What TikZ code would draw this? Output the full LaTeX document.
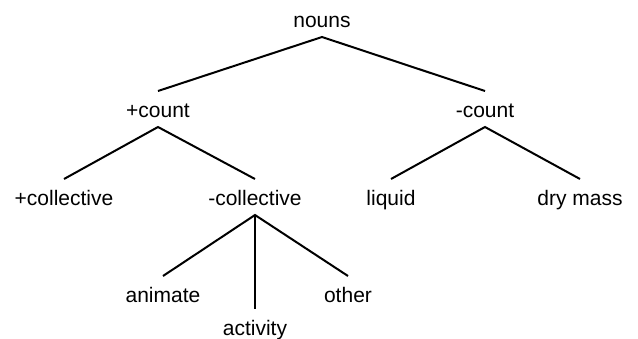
\documentclass[tikz,border=0pt]{standalone}
\usepackage{fontspec}
\setmainfont{Liberation Sans}
\begin{document}
\begin{tikzpicture}[x=1pt,y=1pt,
  lbl/.style={anchor=base,inner sep=0pt,outer ysep=6pt,text height=20pt,text depth=4pt,font=\fontsize{21}{25}\selectfont},
  edge/.style={line width=2pt}]
\useasboundingbox (0,0) rectangle (638,-338);
\node[lbl] (nouns) at (322,-27) {nouns};
\node[lbl] (pc) at (158,-117) {+count};
\node[lbl] (mc) at (485,-117) {-count};
\node[lbl] (pcol) at (64,-205) {+collective};
\node[lbl] (mcol) at (255,-205) {-collective};
\node[lbl] (liq) at (391,-205) {liquid};
\node[lbl] (dry) at (580,-205) {dry mass};
\node[lbl] (anim) at (163,-302) {animate};
\node[lbl] (oth) at (348,-302) {other};
\node[lbl] (act) at (255,-335) {activity};
\draw[edge] (pc.north) -- (nouns.south) -- (mc.north);
\draw[edge] (pcol.north) -- (pc.south) -- (mcol.north);
\draw[edge] (liq.north) -- (mc.south) -- (dry.north);
\draw[edge] (anim.north) -- (mcol.south) -- (oth.north);
\draw[edge] (mcol.south) -- (act.north);
\end{tikzpicture}
\end{document}
